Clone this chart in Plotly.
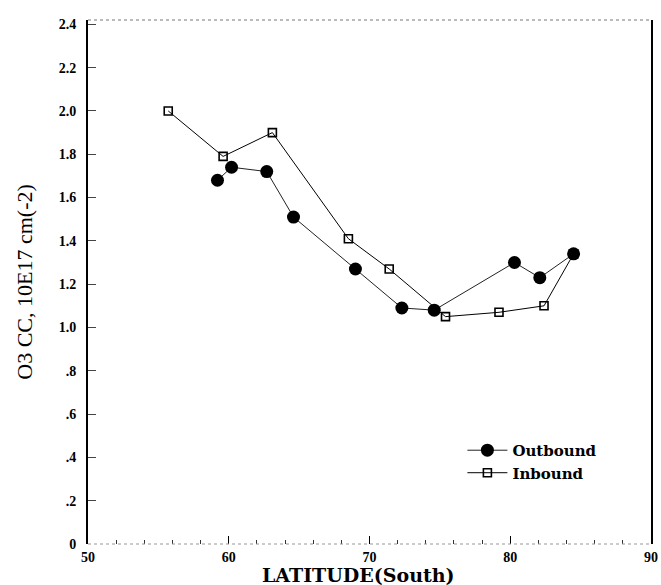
import plotly.graph_objects as go

# Outbound (filled circles)
out_lat = [59.2, 60.2, 62.7, 64.6, 69.0, 72.3, 74.6, 80.3, 82.1, 84.5]
out_o3 = [1.68, 1.74, 1.72, 1.51, 1.27, 1.09, 1.08, 1.30, 1.23, 1.34]

# Inbound (open squares)
in_lat = [55.7, 59.6, 63.1, 68.5, 71.4, 75.4, 79.2, 82.4, 84.5]
in_o3 = [2.00, 1.79, 1.90, 1.41, 1.27, 1.05, 1.07, 1.10, 1.34]

y_tickvals = [0, 0.2, 0.4, 0.6, 0.8, 1.0, 1.2, 1.4, 1.6, 1.8, 2.0, 2.2, 2.4]
y_ticktext = ["0", ".2", ".4", ".6", ".8", "1.0", "1.2", "1.4", "1.6", "1.8", "2.0", "2.2", "2.4"]
x_tickvals = [50, 60, 70, 80, 90]
x_ticktext = ["50", "60", "70", "80", "90"]

serif = "Liberation Serif, Times New Roman, serif"
wide_serif = "DejaVu Serif, serif"

fig = go.Figure()
fig.add_trace(go.Scatter(
    x=in_lat, y=in_o3, mode="lines+markers", name="Inbound",
    line=dict(color="black", width=1),
    marker=dict(symbol="square-open", size=8, color="black", line=dict(width=1.6)),
))
fig.add_trace(go.Scatter(
    x=out_lat, y=out_o3, mode="lines+markers", name="Outbound",
    line=dict(color="#222222", width=1),
    marker=dict(symbol="circle", size=13, color="black"),
))

fig.update_layout(
    width=661, height=585,
    margin=dict(l=88, r=10, t=20, b=41),
    paper_bgcolor="white", plot_bgcolor="white",
    font=dict(family=serif, color="black"),
    showlegend=True,
    legend=dict(
        x=0.665, y=0.21, xanchor="left", yanchor="top",
        traceorder="reversed",
        bgcolor="rgba(0,0,0,0)",
        font=dict(family=wide_serif, size=15, color="black", weight="bold"),
        itemwidth=40,
        tracegroupgap=0,
    ),
    xaxis=dict(
        range=[50, 90], tickvals=x_tickvals, ticktext=x_ticktext,
        ticks="inside", ticklen=8, tickcolor="black", tickwidth=1,
        minor=dict(dtick=2, ticks="inside", ticklen=4, tickcolor="#333333", showgrid=False),
        showgrid=False, zeroline=False, showline=False,
        ticklabelstandoff=3, automargin=False,
        tickfont=dict(family=serif, size=14, color="black", weight="bold"),
    ),
    yaxis=dict(
        range=[0, 2.42], tickvals=y_tickvals, ticktext=y_ticktext,
        ticks="inside", ticklen=8, tickcolor="#444444", tickwidth=1,
        showgrid=False, zeroline=False,
        showline=True, linecolor="black", linewidth=2, mirror=True,
        ticklabelstandoff=7, automargin=False,
        tickfont=dict(family=serif, size=14, color="black", weight="bold"),
        title=dict(text="O3 CC, 10E17 cm(-2)", standoff=20,
                   font=dict(family=serif, size=22, color="black")),
    ),
    annotations=[
        dict(text="LATITUDE(South)", xref="paper", yref="paper", x=0.48, y=0,
             xanchor="center", yanchor="middle", yshift=-31, showarrow=False,
             font=dict(family=wide_serif, size=19, color="black", weight="bold")),
    ],
    shapes=[
        dict(type="line", xref="paper", yref="paper", x0=0, x1=1, y0=1, y1=1,
             line=dict(color="#777777", width=1, dash="dot")),
        dict(type="line", xref="paper", yref="paper", x0=0, x1=1, y0=0, y1=0,
             line=dict(color="#999999", width=1, dash="dot")),
    ],
)

fig.write_html("out.html")
